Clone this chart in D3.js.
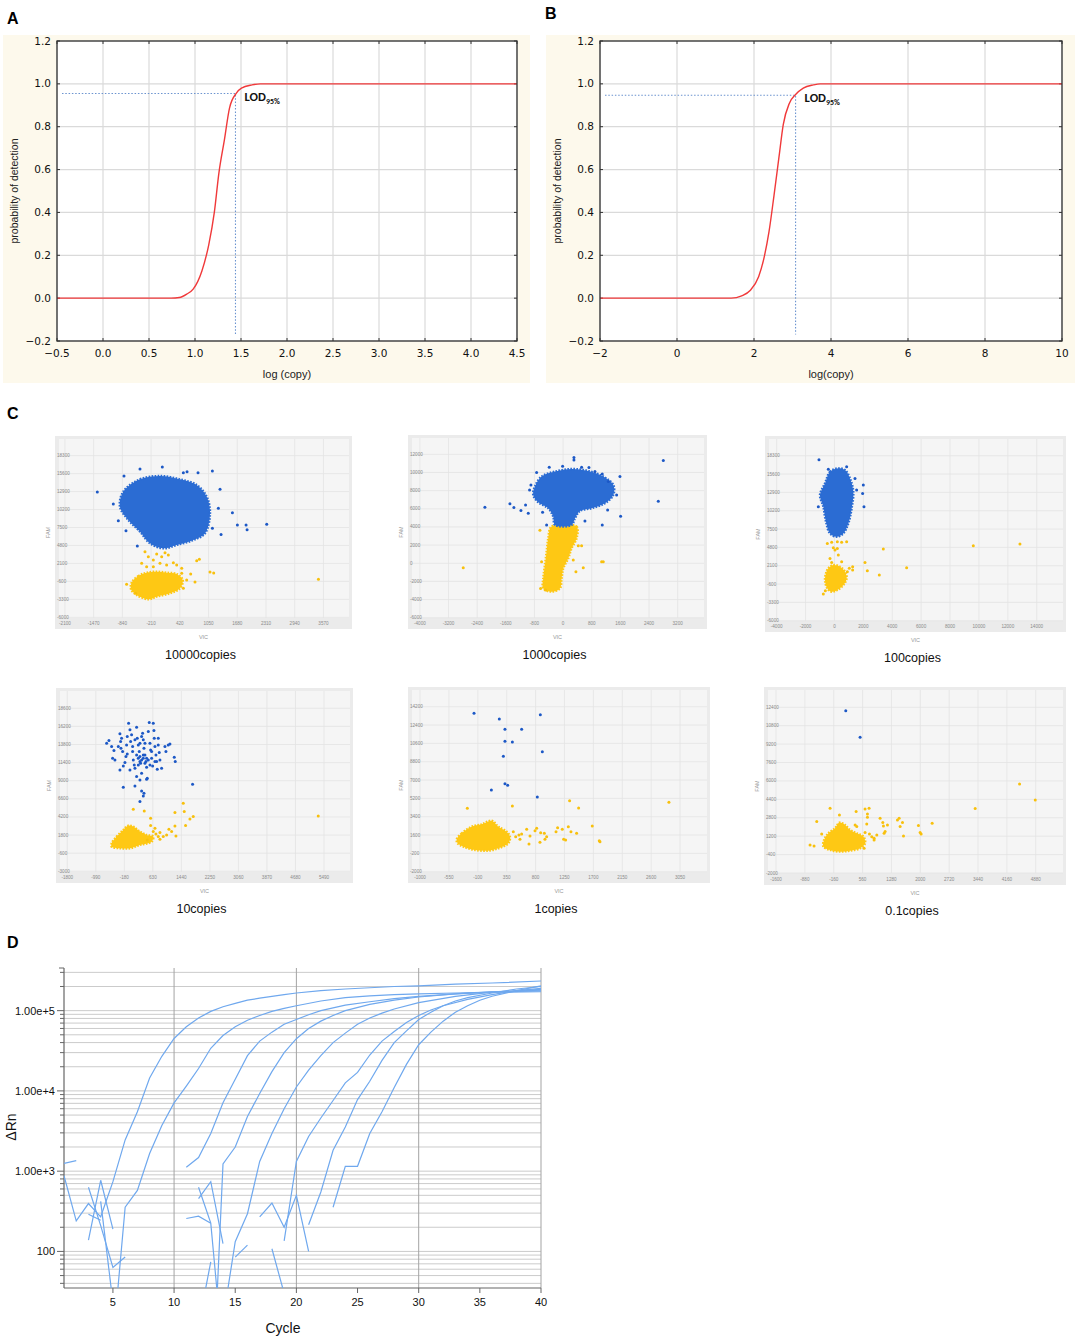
<!DOCTYPE html>
<html>
<head>
<meta charset="utf-8">
<script src="https://cdn.jsdelivr.net/npm/d3@7"></script>
<style>
  body { margin: 0; background: #fff; }
  svg { display: block; }
</style>
</head>
<body>
<svg id="fig" width="1077" height="1339"></svg>
<script>
// ---------- panel A / B : probit curves ----------
const probTicks = [-0.2, 0, 0.2, 0.4, 0.6, 0.8, 1.0, 1.2];
const logTicksA = [-0.5, 0, 0.5, 1, 1.5, 2, 2.5, 3, 3.5, 4, 4.5];
const logTicksB = [-2, 0, 2, 4, 6, 8, 10];
const curveA = [[-0.5, 0], [0.74, 0], [0.83, 0.003], [0.91, 0.019], [0.98, 0.042], [1.075, 0.127],
  [1.15, 0.25], [1.21, 0.4], [1.26, 0.585], [1.32, 0.74], [1.375, 0.887], [1.45, 0.957],
  [1.505, 0.98], [1.62, 0.995], [1.71, 1.0], [4.5, 1.0]];
const curveB = [[-2, 0], [1.41, 0], [1.68, 0.011], [1.9, 0.036], [2.12, 0.1], [2.25, 0.18],
  [2.39, 0.31], [2.52, 0.48], [2.65, 0.66], [2.76, 0.81], [2.92, 0.91], [3.08, 0.95],
  [3.28, 0.98], [3.54, 0.995], [3.72, 1.0], [10, 1.0]];
const lodA = [1.44, 0.955];
const lodB = [3.08, 0.947];

// ---------- panel C : droplet scatter plots ----------
const s1XDomain = [-2230, 4130], s1YDomain = [-6100, 20800];
const s1XTicks = [-2100, -1470, -840, -210, 420, 1050, 1680, 2310, 2940, 3570];
const s1YTicks = [-6000, -3300, -600, 2100, 4800, 7500, 10200, 12900, 15600, 18300];
const s1Blue = [[-820, 12890], [-454, 14740], [-15, 15240], [424, 14740], [790, 13890], [1009, 12140],
  [1082, 9630], [973, 6630], [717, 5620], [351, 4870], [58, 4370], [-234, 5120], [-454, 6880],
  [-710, 8630], [-893, 10630]];
const s1Yellow = [[-637, -790], [-490, 210], [-308, 710], [-88, 860], [131, 710], [351, 510],
  [483, -390], [424, -1640], [205, -2390], [-88, -2890], [-271, -3290], [-527, -2640], [-651, -1790]];
const s1BlueDots = [[-1390, 12840], [-1039, 11030], [-805, 15240], [-454, 16290], [36, 16600],
  [497, 15740], [578, 15890], [819, 15740], [1134, 15990], [1302, 13240], [1265, 10380],
  [1573, 9730], [1682, 7880], [1873, 7880], [1895, 7180], [2326, 7980], [1324, 6430],
  [1134, 7380], [-761, 7030], [-512, 4720], [-929, 8530]];
const s1YellowDots = [[-344, 3870], [-271, 3120], [-161, 2620], [-88, 3520], [22, 3120], [95, 3720],
  [168, 3370], [-15, 2120], [-161, 1620], [-308, 1620], [-417, 2120], [131, 1870], [278, 2220],
  [351, 1870], [461, 1360], [790, 2520], [848, 2720], [1082, 810], [1163, 660], [461, 610],
  [570, -390], [658, 510], [753, -690], [-747, -1040], [-549, -2390], [497, -1640], [3460, -290]];

const s2XDomain = [-4220, 3935], s2YDomain = [-6030, 13800];
const s2XTicks = [-4000, -3200, -2400, -1600, -800, 0, 800, 1600, 2400, 3200];
const s2YTicks = [-6000, -4000, -2000, 0, 2000, 4000, 6000, 8000, 10000, 12000];
const s2Blue = [[-787, 8450], [-601, 9550], [-228, 10100], [237, 10390], [703, 10170], [1122, 9550],
  [1402, 8630], [1402, 7530], [1169, 6610], [796, 6060], [470, 5760], [331, 4950], [237, 4220],
  [-228, 4220], [-275, 5140], [-415, 6060], [-694, 6720], [-834, 7530]];
const s2Yellow = [[-321, 4040], [377, 4040], [377, 2750], [237, 1650], [144, 540], [5, -560],
  [-42, -1660], [-89, -2770], [-321, -3130], [-554, -2770], [-554, -1660], [-508, -190],
  [-461, 1280], [-415, 2750]];
const s2BlueDots = [[-2184, 6170], [-1485, 6570], [-1374, 6130], [-1178, 5800], [-1048, 6420],
  [-973, 5510], [-936, 8080], [-899, 8630], [-740, 9990], [-387, 10580], [-14, 10690], [303, 11640],
  [303, 11390], [517, 10580], [722, 10540], [889, 10100], [1094, 9840], [1262, 9000], [1588, 9550],
  [1495, 7530], [1243, 5870], [1606, 5180], [1094, 4220], [610, 4660], [-461, 4220], [-573, 5620],
  [2798, 11310], [2659, 6830]];
const s2YellowDots = [[-2789, -490], [-647, 3630], [-601, 180], [-629, -2770], [-489, -2950],
  [424, 1940], [517, 1940], [284, 360], [358, -930], [563, -490], [1076, 180], [1122, 180]];

const s3XDomain = [-4530, 15820], s3YDomain = [-6040, 20760];
const s3XTicks = [-4000, -2000, 0, 2000, 4000, 6000, 8000, 10000, 12000, 14000];
const s3YTicks = [-6000, -3300, -600, 2100, 4800, 7500, 10200, 12900, 15600, 18300];
const s3Blue = [[-655, 14220], [-309, 15940], [199, 16430], [729, 16190], [1075, 14960], [1306, 13000],
  [1191, 10540], [960, 8330], [614, 6860], [153, 6370], [-309, 6860], [-586, 8580], [-770, 10790],
  [-1001, 12510]];
const s3Yellow = [[-424, 1710], [-78, 2200], [383, 1950], [729, 1220], [845, 230], [614, -750],
  [199, -1480], [-193, -1730], [-493, -1240], [-655, -10], [-586, 970]];
const s3BlueDots = [[-1070, 17710], [-424, 16290], [845, 16680], [1422, 14960], [1998, 13980],
  [1952, 12750], [2044, 10790], [1537, 13240], [-1116, 10790]];
const s3YellowDots = [[-493, 5390], [-193, 5540], [199, 5630], [499, 5540], [845, 5630], [-78, 4750],
  [37, 4410], [199, 4650], [-309, 3180], [-193, 2590], [499, 2690], [1029, 1710], [1260, 1950],
  [1260, 1460], [891, 1220], [-770, -2070], [-632, -1580], [2114, 2590], [2275, 1360], [3106, 730],
  [3382, 4550], [4997, 1810], [9611, 5050], [12841, 5290], [268, 3670]];

const s4XDomain = [-2007, 6228], s4YDomain = [-3090, 20890];
const s4XTicks = [-1800, -990, -180, 630, 1440, 2250, 3060, 3870, 4680, 5490];
const s4YTicks = [-3000, -600, 1800, 4200, 6600, 9000, 11400, 13800, 16200, 18600];
const s4Blue = [];
const s4Yellow = [[-541, 713], [-399, 1597], [-210, 2481], [-68, 3055], [74, 2923], [263, 2260],
  [452, 1818], [641, 1597], [594, 934], [263, 492], [-21, 50], [-305, 50], [-541, 271]];
const s4BlueDots = [[-683, 13973], [-617, 14326], [-541, 13531], [-475, 13000], [-513, 11984],
  [-447, 11763], [-305, 15210], [-258, 14636], [-286, 14194], [-276, 13310], [-229, 12868],
  [-305, 10437], [-210, 10967], [-163, 11409], [-134, 12205], [-97, 12558], [-59, 16625],
  [-21, 15741], [26, 15078], [-2, 14194], [55, 13531], [74, 11763], [102, 11100], [121, 10658],
  [168, 16094], [187, 14636], [216, 13752], [244, 12868], [263, 12205], [282, 11321], [310, 9995],
  [339, 15299], [358, 14415], [377, 13310], [405, 12426], [433, 11542], [452, 10790], [471, 9332],
  [500, 15520], [528, 16713], [547, 13973], [566, 13089], [594, 11984], [623, 10967], [641, 16625],
  [660, 15652], [670, 14636], [689, 13531], [717, 12426], [736, 11542], [755, 10525], [783, 13752],
  [812, 12735], [878, 10658], [973, 13531], [1001, 12868], [1067, 13752], [1115, 13884],
  [1238, 12116], [1266, 11542], [-210, 8138], [121, 8315], [310, 7652], [377, 7343], [358, 6989],
  [263, 6238], [1758, 8536], [-97, 14857], [121, 14415], [216, 11100], [358, 11984], [500, 11763],
  [594, 12868], [168, 9553], [263, 9111], [452, 9199], [-21, 10437], [55, 12868], [547, 11100],
  [689, 11542], [405, 13973], [263, 13973], [310, 14857], [-116, 13752], [-352, 13531],
  [783, 14636], [831, 11763], [216, 11984], [310, 11763], [405, 11321], [263, 11542], [358, 12426],
  [168, 12426], [452, 11984]];
const s4YellowDots = [[74, 5221], [386, 5000], [566, 4028], [566, 3055], [689, 2702], [641, 2260],
  [717, 1950], [783, 1597], [831, 2127], [925, 1597], [1020, 1818], [1086, 2569], [1162, 2260],
  [1257, 3011], [1285, 1685], [1257, 4779], [1493, 6017], [1522, 4912], [1559, 3055], [1682, 3939],
  [1777, 4249], [5326, 4337], [471, 1155], [831, 1243]];

const s5XDomain = [-1125, 3470], s5YDomain = [-2030, 15840];
const s5XTicks = [-1000, -550, -100, 350, 800, 1250, 1700, 2150, 2600, 3050];
const s5YTicks = [-2000, -200, 1600, 3400, 5200, 7000, 8800, 10600, 12400, 14200];
const s5Blue = [];
const s5Yellow = [[-429, 1175], [-351, 1764], [-196, 2419], [-40, 2648], [116, 3008], [220, 2419],
  [349, 1928], [401, 1437], [375, 782], [220, 291], [64, 62], [-144, 127], [-325, 455], [-414, 782]];
const s5BlueDots = [[-159, 13547], [235, 12991], [323, 11976], [583, 11976], [874, 13416],
  [323, 10797], [438, 10732], [905, 9783], [298, 9325], [323, 6641], [365, 6477], [111, 6019],
  [827, 5332]];
const s5YellowDots = [[-263, 4219], [438, 4448], [453, 1928], [490, 1437], [541, 1600], [583, 1699],
  [661, 2157], [713, 1502], [791, 2026], [817, 2255], [879, 1829], [936, 1764], [946, 1175],
  [972, 1437], [1118, 1928], [1143, 2320], [1216, 2157], [1237, 1175], [1268, 1109], [1310, 2419],
  [1351, 1928], [1439, 1764], [1330, 4972], [1470, 4251], [1683, 2484], [1792, 1044], [1803, 946],
  [2877, 4808], [697, 717], [868, 880], [557, 1175]];

const s6XDomain = [-1800, 5560], s6YDomain = [-2000, 13900];
const s6XTicks = [-1600, -880, -160, 560, 1280, 2000, 2720, 3440, 4160, 4880];
const s6YTicks = [-2000, -400, 1200, 2800, 4400, 6000, 7600, 9200, 10800, 12400];
const s6Blue = [];
const s6Yellow = [[-401, 870], [-293, 1450], [-127, 1885], [-18, 2377], [123, 2175], [248, 1740],
  [414, 1450], [581, 1160], [623, 580], [498, 145], [248, -58], [-2, -145], [-251, 0], [-418, 290]];
const s6BlueDots = [[140, 12089], [498, 9799]];
const s6YellowDots = [[-751, 435], [-651, 348], [-584, 2464], [-460, 1392], [-251, 3624], [-18, 3044],
  [398, 3334], [373, 2175], [414, 2030], [622, 3566], [722, 3624], [681, 3131], [681, 2841],
  [664, 2262], [622, 1508], [731, 1392], [789, 1160], [847, 870], [914, 1305], [997, 2754],
  [1064, 2377], [1080, 2088], [1097, 1450], [1180, 2175], [1122, 1595], [1430, 2609], [1472, 2754],
  [1497, 2030], [1555, 2377], [1580, 1218], [1954, 2117], [1996, 1508], [2021, 1392], [2296, 2320],
  [3369, 3595], [4477, 5740], [4868, 4349], [598, 145], [847, 1015]];

const scatterTitles = ['10000copies', '1000copies', '100copies', '10copies', '1copies', '0.1copies'];

// ---------- panel D : amplification curves ----------
const cycleTicks = [5, 10, 15, 20, 25, 30, 35, 40];
const cycleGrid = [10, 20, 30, 40];
const rnLabels = [[100, '100'], [1000, '1.00e+3'], [10000, '1.00e+4'], [100000, '1.00e+5']];
const amp1 = [[1, 880], [2, 240], [3, 395], [4, 270], [5, 740], [6, 2450], [7, 5500], [8, 14500],
  [9, 27000], [10, 45000], [11, 63000], [12, 81000], [13, 98000], [14, 112000], [15, 123000],
  [16, 135000], [17, 143000], [18, 151000], [19, 158000], [20, 166000], [22, 178000], [24, 186000],
  [26, 193000], [28, 200000], [30, 204000], [33, 214000], [36, 221000], [40, 234000]];
const amp2 = [[5, 7], [6, 355], [7, 575], [8, 1660], [9, 3700], [10, 7100], [11, 11500], [12, 19000],
  [13, 34000], [14, 49000], [15, 63000], [16, 76000], [17, 87000], [18, 98000], [19, 107000],
  [20, 115000], [22, 132000], [24, 145000], [26, 153000], [28, 158000], [30, 162000], [33, 166000],
  [36, 170000], [40, 172000]];
const amp3 = [[11, 1120], [12, 1480], [13, 2950], [14, 7100], [15, 14000], [16, 27500], [17, 41700],
  [18, 54000], [19, 67600], [20, 77600], [21, 89000], [22, 100000], [24, 117000], [26, 129000],
  [28, 141000], [30, 151000], [33, 162000], [36, 170000], [40, 176000]];
const amp4 = [[13, 0.5], [14, 1230], [15, 2000], [16, 4800], [17, 9300], [18, 17400], [19, 30000],
  [20, 44700], [21, 60000], [22, 74000], [23, 87000], [24, 100000], [26, 120000], [28, 135000],
  [30, 148000], [33, 162000], [36, 172000], [40, 180000]];
const amp5 = [[14, 14], [15, 132], [16, 295], [17, 1320], [18, 2950], [19, 6000], [20, 11200],
  [21, 18200], [22, 27500], [23, 40000], [24, 52500], [25, 67600], [26, 81000], [27, 93000],
  [28, 105000], [30, 126000], [33, 151000], [36, 170000], [40, 184000]];
const amp6 = [[19, 135], [20, 1320], [21, 2700], [22, 4600], [23, 7600], [24, 12600], [25, 17000],
  [26, 28000], [27, 41700], [28, 55000], [29, 71000], [30, 87000], [31, 102000], [32, 115000],
  [34, 138000], [36, 158000], [38, 178000], [40, 190000]];
const amp7 = [[21, 215], [22, 550], [23, 1820], [24, 3550], [25, 7800], [26, 13200], [27, 24000],
  [28, 40000], [29, 56000], [30, 77600], [31, 95500], [32, 115000], [33, 132000], [34, 145000],
  [36, 166000], [38, 186000], [40, 200000]];
const amp8 = [[23, 355], [24, 1150], [25, 1150], [26, 2950], [27, 5500], [28, 11000], [29, 21400],
  [30, 37600], [31, 54000], [32, 74000], [33, 95500], [34, 115000], [35, 135000], [36, 151000],
  [38, 178000], [40, 204000]];
const noise = [
  [[1, 1250], [2, 1350]],
  [[3, 138], [4, 770], [5, 190]],
  [[3, 630], [4, 210], [5, 63], [6, 85]],
  [[3, 290], [4, 245]],
  [[4, 420], [5, 23]],
  [[11, 257], [12, 275], [13, 225]],
  [[12, 455], [13, 740], [14, 125]],
  [[12, 630], [13, 225], [14, 5]],
  [[12, 12], [13, 74]],
  [[15, 85], [16, 120]],
  [[17, 270], [18, 400], [19, 200], [20, 500], [21, 100]],
  [[18, 108], [19, 30]]
];

// ======================================================
const svg = d3.select('#fig');
const font = 'Liberation Sans, Arial, sans-serif';

const panelLabel = (x, y, t) => {
  svg.append('text').attr('x', x).attr('y', y).attr('font-family', font)
    .attr('font-weight', 'bold').attr('font-size', 16).text(t);
};
panelLabel(7, 24, 'A');
panelLabel(545, 19, 'B');
panelLabel(7, 419, 'C');
panelLabel(7, 948, 'D');

// ---------- A / B ----------
const drawProb = (box, plot, xDomain, xTicks, curve, lod, xTitle, fmtX) => {
  const g = svg.append('g');
  g.append('rect').attr('x', box[0]).attr('y', box[1]).attr('width', box[2] - box[0])
    .attr('height', box[3] - box[1]).attr('fill', '#fdf9ec');
  g.append('rect').attr('x', plot[0]).attr('y', plot[1]).attr('width', plot[2] - plot[0])
    .attr('height', plot[3] - plot[1]).attr('fill', '#fff');

  const x = d3.scaleLinear().domain(xDomain).range([plot[0], plot[2]]);
  const y = d3.scaleLinear().domain([-0.2, 1.2]).range([plot[3], plot[1]]);

  g.selectAll('.vg').data(xTicks).enter().append('line')
    .attr('x1', d => x(d)).attr('x2', d => x(d)).attr('y1', plot[1]).attr('y2', plot[3])
    .attr('stroke', '#dadada').attr('stroke-width', 1.2);
  g.selectAll('.hg').data(probTicks).enter().append('line')
    .attr('x1', plot[0]).attr('x2', plot[2]).attr('y1', d => y(d)).attr('y2', d => y(d))
    .attr('stroke', '#dadada').attr('stroke-width', 1.2);

  // small inward ticks on the frame
  g.selectAll('.tt').data(xTicks).enter().append('line')
    .attr('x1', d => x(d)).attr('x2', d => x(d)).attr('y1', plot[1]).attr('y2', plot[1] + 3)
    .attr('stroke', '#333');
  g.selectAll('.bt').data(xTicks).enter().append('line')
    .attr('x1', d => x(d)).attr('x2', d => x(d)).attr('y1', plot[3]).attr('y2', plot[3] - 3)
    .attr('stroke', '#333');
  g.selectAll('.lt').data(probTicks).enter().append('line')
    .attr('x1', plot[0]).attr('x2', plot[0] + 3).attr('y1', d => y(d)).attr('y2', d => y(d))
    .attr('stroke', '#333');
  g.selectAll('.rt').data(probTicks).enter().append('line')
    .attr('x1', plot[2]).attr('x2', plot[2] - 3).attr('y1', d => y(d)).attr('y2', d => y(d))
    .attr('stroke', '#333');

  // LOD guide
  g.append('path')
    .attr('d', `M${x(xDomain[0]) + 5},${y(lod[1])}H${x(lod[0])}V${y(-0.17)}`)
    .attr('fill', 'none').attr('stroke', '#6b93cf').attr('stroke-width', 1.1)
    .attr('stroke-dasharray', '1.5,1.8');

  g.append('path').datum(curve)
    .attr('d', d3.line().x(d => x(d[0])).y(d => y(d[1])).curve(d3.curveMonotoneX))
    .attr('fill', 'none').attr('stroke', '#f0393a').attr('stroke-width', 1.4);

  const lbl = g.append('text').attr('x', x(lod[0]) + 9).attr('y', y(lod[1]) + 7)
    .attr('font-family', 'Carlito, Liberation Sans, sans-serif').attr('font-weight', 'bold')
    .attr('font-size', 12.5).attr('fill', '#111');
  lbl.append('tspan').text('LOD');
  lbl.append('tspan').attr('dy', 3).attr('font-size', 8).text('95%');

  g.append('rect').attr('x', plot[0]).attr('y', plot[1]).attr('width', plot[2] - plot[0])
    .attr('height', plot[3] - plot[1]).attr('fill', 'none').attr('stroke', '#333')
    .attr('stroke-width', 1.3);

  g.selectAll('.yl').data(probTicks).enter().append('text')
    .attr('x', plot[0] - 6).attr('y', d => y(d) + 3.5).attr('text-anchor', 'end')
    .attr('font-family', 'DejaVu Sans, sans-serif').attr('font-size', 10.5).attr('fill', '#111')
    .text(d => d3.format('.1f')(d));
  g.selectAll('.xl').data(xTicks).enter().append('text')
    .attr('x', d => x(d)).attr('y', plot[3] + 16).attr('text-anchor', 'middle')
    .attr('font-family', 'DejaVu Sans, sans-serif').attr('font-size', 10.5).attr('fill', '#111')
    .text(d => fmtX(d));

  g.append('text').attr('x', (plot[0] + plot[2]) / 2).attr('y', plot[3] + 37)
    .attr('text-anchor', 'middle').attr('font-family', font).attr('font-size', 11)
    .attr('fill', '#222').text(xTitle);
  g.append('text')
    .attr('transform', `translate(${box[0] + 15},${(plot[1] + plot[3]) / 2}) rotate(-90)`)
    .attr('text-anchor', 'middle').attr('font-family', font).attr('font-size', 10.5)
    .attr('fill', '#222').text('probability of detection');
};

drawProb([3, 35, 530, 383], [57, 41, 517, 341], [-0.5, 4.5], logTicksA, curveA, lodA,
  'log (copy)', d3.format('.1f'));
drawProb([546, 35, 1075, 383], [600, 41, 1062, 341], [-2, 10], logTicksB, curveB, lodB,
  'log(copy)', d3.format('d'));

// ---------- C ----------
const scatterLayout = [
  { frame: [55, 436, 352, 629], inner: [59, 439, 349, 618] },
  { frame: [408, 435, 707, 629], inner: [412, 438, 704, 618] },
  { frame: [765, 436, 1066, 632], inner: [769, 439, 1063, 621] },
  { frame: [56, 688, 353, 883], inner: [60, 691, 350, 872] },
  { frame: [408, 687, 710, 883], inner: [412, 690, 707, 872] },
  { frame: [764, 687, 1066, 885], inner: [768, 690, 1063, 873] }
];
const scatterSets = [
  [s1XDomain, s1YDomain, s1XTicks, s1YTicks, s1Blue, s1Yellow, s1BlueDots, s1YellowDots],
  [s2XDomain, s2YDomain, s2XTicks, s2YTicks, s2Blue, s2Yellow, s2BlueDots, s2YellowDots],
  [s3XDomain, s3YDomain, s3XTicks, s3YTicks, s3Blue, s3Yellow, s3BlueDots, s3YellowDots],
  [s4XDomain, s4YDomain, s4XTicks, s4YTicks, s4Blue, s4Yellow, s4BlueDots, s4YellowDots],
  [s5XDomain, s5YDomain, s5XTicks, s5YTicks, s5Blue, s5Yellow, s5BlueDots, s5YellowDots],
  [s6XDomain, s6YDomain, s6XTicks, s6YTicks, s6Blue, s6Yellow, s6BlueDots, s6YellowDots]
];
const blueCol = '#2b6cd3', blueDot = '#1c58c6', yellowCol = '#fec814', yellowDot = '#f8c00c';

scatterSets.forEach((s, i) => {
  const [xDom, yDom, xT, yT, blue, yellow, bDots, yDots] = s;
  const { frame, inner } = scatterLayout[i];
  const g = svg.append('g');
  g.append('rect').attr('x', frame[0]).attr('y', frame[1]).attr('width', frame[2] - frame[0])
    .attr('height', frame[3] - frame[1]).attr('fill', '#ebebeb');
  g.append('rect').attr('x', inner[0]).attr('y', inner[1]).attr('width', inner[2] - inner[0])
    .attr('height', inner[3] - inner[1]).attr('fill', '#f5f5f5');

  const x = d3.scaleLinear().domain(xDom).range([inner[0], inner[2]]);
  const y = d3.scaleLinear().domain(yDom).range([inner[3], inner[1]]);

  g.selectAll('.vg').data(xT).enter().append('line')
    .attr('x1', d => x(d)).attr('x2', d => x(d)).attr('y1', inner[1]).attr('y2', inner[3])
    .attr('stroke', '#e3e3e3').attr('stroke-width', 0.8);
  g.selectAll('.hg').data(yT).enter().append('line')
    .attr('x1', inner[0]).attr('x2', inner[2]).attr('y1', d => y(d)).attr('y2', d => y(d))
    .attr('stroke', '#e3e3e3').attr('stroke-width', 0.8);

  g.selectAll('.yl').data(yT).enter().append('text')
    .attr('x', frame[0] + 2).attr('y', d => y(d) + 1.5)
    .attr('font-family', font).attr('font-size', 4.6).attr('fill', '#8a8a8a').text(d => d);
  g.selectAll('.xl').data(xT).enter().append('text')
    .attr('x', d => x(d)).attr('y', frame[3] - 4).attr('text-anchor', 'middle')
    .attr('font-family', font).attr('font-size', 4.6).attr('fill', '#8a8a8a').text(d => d);

  g.append('text').attr('x', (frame[0] + frame[2]) / 2).attr('y', frame[3] + 10)
    .attr('text-anchor', 'middle').attr('font-family', font).attr('font-size', 5.5)
    .attr('fill', '#999').text('VIC');
  g.append('text')
    .attr('transform', `translate(${frame[0] - 5},${(frame[1] + frame[3]) / 2}) rotate(-90)`)
    .attr('text-anchor', 'middle').attr('font-family', font).attr('font-size', 5.5)
    .attr('fill', '#999').text('FAM');
  g.append('text').attr('x', (frame[0] + frame[2]) / 2 - 3).attr('y', frame[3] + 30)
    .attr('text-anchor', 'middle').attr('font-family', font).attr('font-size', 12.5)
    .attr('fill', '#111').text(scatterTitles[i]);

  const blob = d3.line().x(d => x(d[0])).y(d => y(d[1])).curve(d3.curveCatmullRomClosed.alpha(0.5));
  if (yellow.length) {
    g.append('path').datum(yellow).attr('d', blob).attr('fill', yellowCol)
      .attr('stroke', yellowCol).attr('stroke-width', 2.4).attr('stroke-dasharray', '1.6,1.4');
  }
  g.selectAll('.yd').data(yDots).enter().append('circle')
    .attr('cx', d => x(d[0])).attr('cy', d => y(d[1])).attr('r', 1.5).attr('fill', yellowDot);
  if (blue.length) {
    g.append('path').datum(blue).attr('d', blob).attr('fill', blueCol)
      .attr('stroke', blueCol).attr('stroke-width', 2.4).attr('stroke-dasharray', '1.6,1.4');
  }
  g.selectAll('.bd').data(bDots).enter().append('circle')
    .attr('cx', d => x(d[0])).attr('cy', d => y(d[1])).attr('r', 1.5).attr('fill', blueDot);
});

// ---------- D ----------
{
  const L = 64, R = 541, T = 968, B = 1288;
  const x = d3.scaleLinear().domain([1, 40]).range([L, R]);
  const y = d3.scaleLog().domain([35, 340000]).range([B, T]);
  const g = svg.append('g');

  const minor = [];
  for (let k = 1; k <= 5; k++) for (let m = 1; m <= 9; m++) {
    const v = m * Math.pow(10, k);
    if (v >= y.domain()[0] && v <= y.domain()[1]) minor.push(v);
  }
  g.selectAll('.hg').data(minor).enter().append('line')
    .attr('x1', L).attr('x2', R).attr('y1', d => y(d)).attr('y2', d => y(d))
    .attr('stroke', '#cbcbcb').attr('stroke-width', 1);
  g.selectAll('.vg').data(cycleGrid).enter().append('line')
    .attr('x1', d => x(d)).attr('x2', d => x(d)).attr('y1', T).attr('y2', B)
    .attr('stroke', '#a3a3a3').attr('stroke-width', 1);

  g.selectAll('.lt').data(minor).enter().append('line')
    .attr('x1', d => (Math.log10(d) % 1 === 0 ? L - 7 : L - 4)).attr('x2', L)
    .attr('y1', d => y(d)).attr('y2', d => y(d)).attr('stroke', '#666');
  g.append('line').attr('x1', L).attr('x2', L).attr('y1', T).attr('y2', B)
    .attr('stroke', '#666').attr('stroke-width', 1.2);
  g.append('line').attr('x1', L - 5).attr('x2', L).attr('y1', T).attr('y2', T).attr('stroke', '#666');
  g.append('line').attr('x1', L).attr('x2', R).attr('y1', B).attr('y2', B)
    .attr('stroke', '#666').attr('stroke-width', 1.2);
  g.selectAll('.bt').data(cycleTicks).enter().append('line')
    .attr('x1', d => x(d)).attr('x2', d => x(d)).attr('y1', B).attr('y2', B + 5).attr('stroke', '#666');

  g.selectAll('.yl').data(rnLabels).enter().append('text')
    .attr('x', L - 9).attr('y', d => y(d[0]) + 4).attr('text-anchor', 'end')
    .attr('font-family', font).attr('font-size', 11).attr('fill', '#111').text(d => d[1]);
  g.selectAll('.xl').data(cycleTicks).enter().append('text')
    .attr('x', d => x(d)).attr('y', B + 18).attr('text-anchor', 'middle')
    .attr('font-family', font).attr('font-size', 11).attr('fill', '#111').text(d => d);

  g.append('text').attr('x', 283).attr('y', B + 45).attr('text-anchor', 'middle')
    .attr('font-family', font).attr('font-size', 14).attr('fill', '#111').text('Cycle');
  g.append('text').attr('transform', `translate(16,${(T + B) / 2 - 1}) rotate(-90)`)
    .attr('text-anchor', 'middle').attr('font-family', font).attr('font-size', 14)
    .attr('fill', '#111').text('ΔRn');

  g.append('clipPath').attr('id', 'dclip').append('rect')
    .attr('x', L).attr('y', T).attr('width', R - L).attr('height', B - T);
  const line = d3.line().x(d => x(d[0])).y(d => y(d[1]));
  const lines = noise.concat([amp1, amp2, amp3, amp4, amp5, amp6, amp7, amp8]);
  g.append('g').attr('clip-path', 'url(#dclip)')
    .selectAll('path').data(lines).enter().append('path')
    .attr('d', line).attr('fill', 'none').attr('stroke', '#6fa8ee').attr('stroke-width', 1.2);
}
</script>
</body>
</html>
